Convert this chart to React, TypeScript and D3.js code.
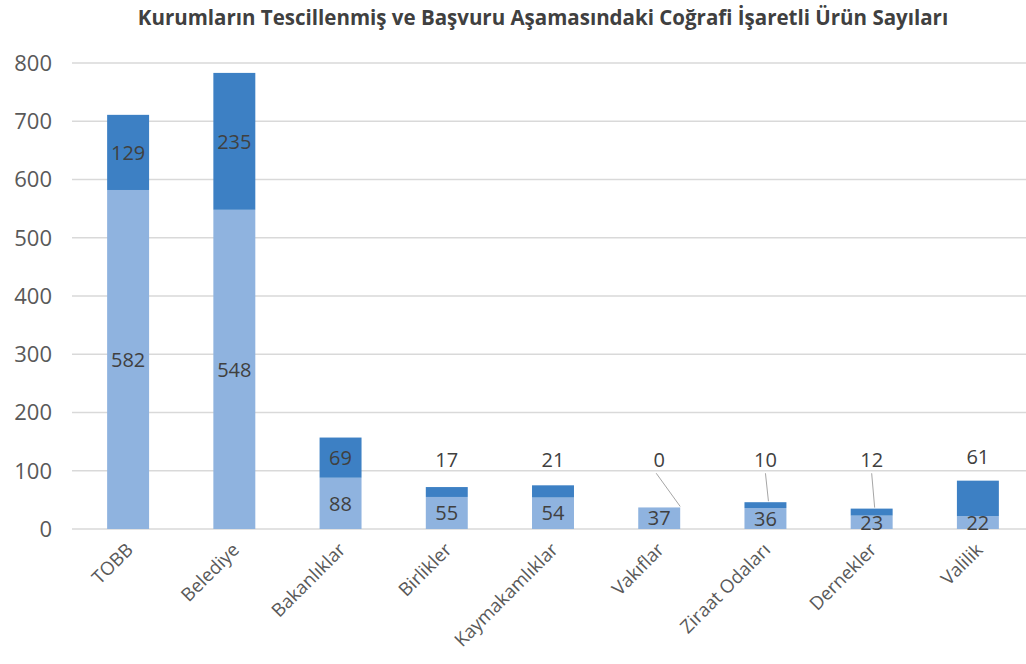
import React from "react";
import * as d3 from "d3";

const title = "Kurumların Tescillenmiş ve Başvuru Aşamasındaki Coğrafi İşaretli Ürün Sayıları";
const categories = ["TOBB", "Belediye", "Bakanlıklar", "Birlikler", "Kaymakamlıklar", "Vakıflar", "Ziraat Odaları", "Dernekler", "Valilik"];
const registered = [582, 548, 88, 55, 54, 37, 36, 23, 22];
const applications = [129, 235, 69, 17, 21, 0, 10, 12, 61];
const yTicks = [0, 100, 200, 300, 400, 500, 600, 700, 800];

const W = 1026;
const H = 664;
const LIGHT = "#8fb3df";
const DARK = "#3d80c4";
const LABEL = "#404040";
const AXIS_TXT = "#595959";
const GRID = "#d9d9d9";
const FONT = "'Open Sans', 'Liberation Sans', sans-serif";

export default function App() {
  const x = d3.scaleBand<string>().domain(categories).range([75, 1031]).paddingInner(0.605).paddingOuter(0.3025);
  const y = d3.scaleLinear().domain([0, 800]).range([529, 63]);
  const bw = x.bandwidth();
  const outsideY = y(118);

  return (
    <svg width={W} height={H} style={{ position: "absolute", left: 0, top: 0, background: "#fff" }} fontFamily={FONT}>
      <rect width={W} height={H} fill="#fff" />
      <text x={543} y={25} textAnchor="middle" fontSize={20.5} fontWeight="bold" fill="#404040" fontFamily={FONT}>
        {title}
      </text>
      {yTicks.map((t) => (
        <g key={t}>
          <line x1={72} x2={1026} y1={y(t)} y2={y(t)} stroke={GRID} strokeWidth={1.5} />
          <text x={52} y={y(t)} dy="0.36em" textAnchor="end" fontSize={22} fill={AXIS_TXT}>
            {t}
          </text>
        </g>
      ))}
      {categories.map((c, i) => {
        const x0 = x(c)!;
        const cx = x0 + bw / 2;
        const r = registered[i];
        const a = applications[i];
        const topH = y(0) - y(a);
        const inside = topH > 38;
        const total = r + a;
        const ly = Math.min(outsideY, y(total) - 24);
        return (
          <g key={c}>
            <rect x={x0} y={y(r)} width={bw} height={y(0) - y(r)} fill={LIGHT} />
            {a > 0 && <rect x={x0} y={y(total)} width={bw} height={topH} fill={DARK} />}
            <text x={cx} y={y(r / 2)} dy="0.36em" textAnchor="middle" fontSize={20} fill={LABEL}>
              {r}
            </text>
            {inside ? (
              <text x={cx} y={y(r + a / 2)} dy="0.36em" textAnchor="middle" fontSize={20} fill={LABEL}>
                {a}
              </text>
            ) : (
              <>
                <text x={cx} y={ly} dy="0.36em" textAnchor="middle" fontSize={20} fill={LABEL}>
                  {a}
                </text>
                {y(total) - ly > 40 && (
                  <line
                    x1={a === 0 ? cx - 3 : cx}
                    y1={ly + 13}
                    x2={a === 0 ? x0 + bw : cx + 3}
                    y2={y(total) - 1}
                    stroke="#a6a6a6"
                    strokeWidth={1}
                  />
                )}
              </>
            )}
            <text
              transform={`translate(${cx + 6},${551}) rotate(-45)`}
              textAnchor="end"
              fontSize={18.5}
              fill={AXIS_TXT}
            >
              {c}
            </text>
          </g>
        );
      })}
    </svg>
  );
}
